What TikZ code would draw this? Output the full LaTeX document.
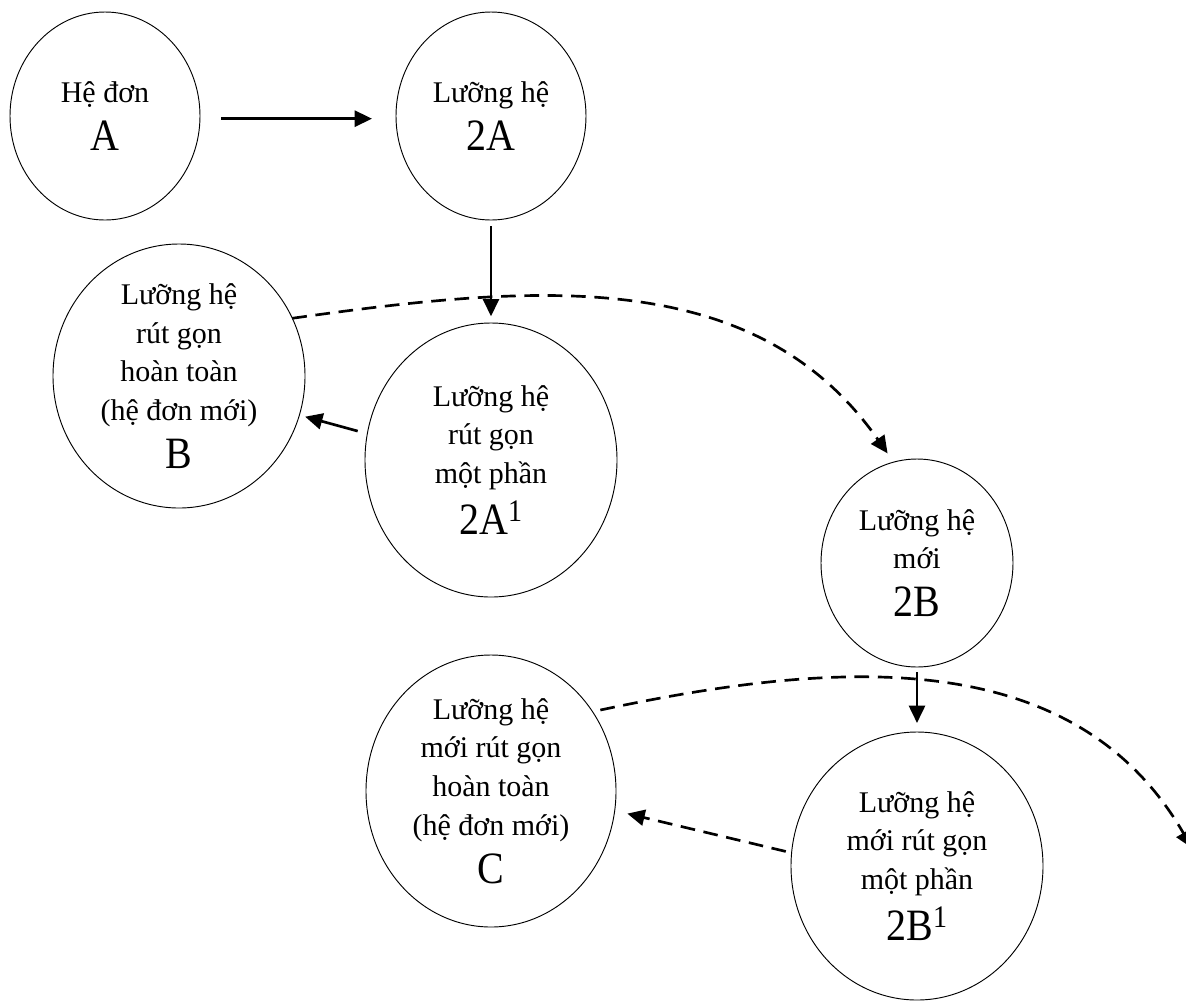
\documentclass[tikz,border=0pt]{standalone}
\usepackage{fontspec}
\usepackage{graphicx}
\setmainfont{Liberation Serif}
\usetikzlibrary{shapes.geometric,arrows.meta}
\newcommand{\biglbl}[1]{{\fontsize{30}{36}\selectfont\scalebox{1}[1.12]{#1}}}
\begin{document}
\begin{tikzpicture}[x=0.75pt,y=0.75pt,
  ell/.style={draw, ellipse, line width=0.7pt, inner sep=0pt, outer sep=0pt},
  lbl/.style={align=center, font=\fontsize{22.5}{29}\selectfont, inner sep=0pt},
  arr/.style={line width=2pt, -{Triangle[length=13pt,width=12pt]}},
  darr/.style={arr, dash pattern=on 11pt off 6.5pt}]
\useasboundingbox (0,0) rectangle (1186,-1001);
\fill[white] (0,0) rectangle (1186,-1001);
% ellipses
\node[ell, minimum width=142.5pt, minimum height=156pt] (nA) at (105,-116) {};
\node[ell, minimum width=142.5pt, minimum height=156pt] (nAA) at (491,-116) {};
\node[ell, minimum width=189pt, minimum height=198pt] (nB) at (179,-376) {};
\node[ell, minimum width=189pt, minimum height=205.5pt] (nAA1) at (491,-460) {};
\node[ell, minimum width=144pt, minimum height=156pt] (nBB) at (917,-563) {};
\node[ell, minimum width=187.5pt, minimum height=204pt] (nC) at (491,-791) {};
\node[ell, minimum width=189pt, minimum height=201pt] (nBB1) at (917,-866) {};
% labels
\node[lbl] (tA) at (nA) {Hệ đơn\\[7pt]\biglbl{A}};
\node[lbl] (tAA) at (nAA) {Lưỡng hệ\\[7pt]\biglbl{2A}};
\node[lbl] (tB) at (nB) {Lưỡng hệ\\rút gọn\\hoàn toàn\\(hệ đơn mới)\\[7pt]\biglbl{B}};
\node[lbl] (tAA1) at (nAA1) {Lưỡng hệ\\rút gọn\\một phần\\[7pt]\biglbl{2A\textsuperscript{1}}};
\node[lbl] (tBB) at (nBB) {Lưỡng hệ\\mới\\[7pt]\biglbl{2B}};
\node[lbl] (tC) at (nC) {Lưỡng hệ\\mới rút gọn\\hoàn toàn\\(hệ đơn mới)\\[7pt]\biglbl{C}};
\node[lbl] (tBB1) at (nBB1) {Lưỡng hệ\\mới rút gọn\\một phần\\[7pt]\biglbl{2B\textsuperscript{1}}};
\coordinate (cEnd) at (1192,-848);
% connectors
\draw[arr, shorten <=16pt, shorten >=18pt] ([yshift=-2pt]nA.east) -- ([yshift=-2pt]nAA.west);
\draw[arr, shorten <=4.5pt, shorten >=5pt] (nAA.south) -- (nAA1.north);
\draw[arr, shorten <=7.5pt, shorten >=4.5pt] (nAA1.168) -- (nB.-18);
\draw[arr, shorten <=3.75pt, shorten >=6.75pt] (nBB.south) -- (nBB1.north);
\draw[darr, shorten <=4.5pt, shorten >=9.75pt] (nBB1.174) -- (nC.-9);
\draw[darr, shorten >=8pt] (nB.27) to[out=8,in=125] (nBB.103);
\draw[darr, shorten <=6pt] (nC.38) to[out=12,in=120] (cEnd);
\end{tikzpicture}
\end{document}
